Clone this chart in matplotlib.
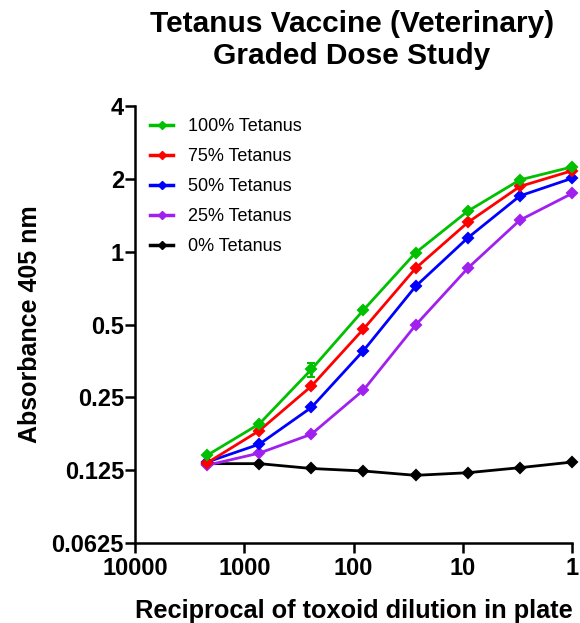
import matplotlib
matplotlib.use("Agg")
import matplotlib.pyplot as plt
from matplotlib.lines import Line2D
from matplotlib.ticker import FixedLocator, FixedFormatter, NullLocator

plt.rcParams['font.family'] = ['Liberation Sans', 'DejaVu Sans']

# reciprocal of toxoid dilution (3-fold series)
dilution = [2187, 729, 243, 81, 27, 9, 3, 1]

tet_100 = [0.144, 0.194, 0.326, 0.574, 0.99, 1.47, 1.98, 2.24]
tet_100_err = [0, 0, 0.022, 0, 0, 0, 0, 0]
tet_75 = [0.134, 0.182, 0.278, 0.479, 0.854, 1.32, 1.86, 2.16]
tet_50 = [0.135, 0.160, 0.227, 0.39, 0.719, 1.14, 1.70, 2.01]
tet_25 = [0.131, 0.147, 0.176, 0.268, 0.497, 0.854, 1.35, 1.74]
tet_0 = [0.133, 0.133, 0.127, 0.124, 0.119, 0.122, 0.128, 0.135]

series = [
    ("100% Tetanus", tet_100, "#00C000"),
    ("75% Tetanus", tet_75, "#FF0000"),
    ("50% Tetanus", tet_50, "#0000FF"),
    ("25% Tetanus", tet_25, "#A020F0"),
    ("0% Tetanus", tet_0, "#000000"),
]

y_ticks = [0.0625, 0.125, 0.25, 0.5, 1, 2, 4]
y_labels = ["0.0625", "0.125", "0.25", "0.5", "1", "2", "4"]
x_ticks = [10000, 1000, 100, 10, 1]
x_labels = ["10000", "1000", "100", "10", "1"]

fig = plt.figure(figsize=(5.8, 6.23), dpi=100)
ax = fig.add_axes([135 / 580, 80 / 623, 437 / 580, 437 / 623])

for name, vals, col in reversed(series):
    err = tet_100_err if name.startswith("100") else None
    h = ax.errorbar(dilution, vals, yerr=err, color=col, lw=2.0, marker="D",
                    ms=5, mew=1.5, capsize=3, elinewidth=2, capthick=2,
                    clip_on=False, zorder=3)
    h.lines[0].set_clip_on(False)

ax.set_xscale("log")
ax.set_yscale("log", base=2)
ax.set_xlim(10000, 1)
ax.set_ylim(0.0625, 4)

ax.yaxis.set_major_locator(FixedLocator(y_ticks))
ax.yaxis.set_major_formatter(FixedFormatter(y_labels))
ax.yaxis.set_minor_locator(NullLocator())
ax.xaxis.set_major_locator(FixedLocator(x_ticks))
ax.xaxis.set_major_formatter(FixedFormatter(x_labels))
ax.xaxis.set_minor_locator(NullLocator())

for s in ["top", "right"]:
    ax.spines[s].set_visible(False)
for s in ["left", "bottom"]:
    ax.spines[s].set_linewidth(1.8)

ax.tick_params(axis="both", direction="out", length=7, width=1.8,
               labelsize=17)
ax.tick_params(axis="y", pad=1)
ax.tick_params(axis="x", pad=3)
for lab in ax.get_xticklabels() + ax.get_yticklabels():
    lab.set_fontweight("bold")

ax.set_xlabel("Reciprocal of toxoid dilution in plate", fontsize=18.3,
              fontweight="bold", labelpad=14)
ax.set_ylabel("Absorbance 405 nm", fontsize=18, fontweight="bold",
              labelpad=7)

fig.text(352 / 580, 1 - 10 / 623, "Tetanus Vaccine (Veterinary)\nGraded Dose Study",
         ha="center", va="top", fontsize=21.5, fontweight="bold",
         linespacing=1.2)

leg_handles = [Line2D([], [], color=col, lw=2.5, marker="D", ms=4)
               for _, _, col in series]
leg_labels = [name for name, _, _ in series]
ax.legend(leg_handles, leg_labels, loc="upper left",
          bbox_to_anchor=(0.034, 0.972), frameon=False, fontsize=13,
          handlelength=1.3, handletextpad=0.8, labelspacing=0.72,
          borderpad=0, borderaxespad=0)

fig.savefig("out.png", dpi=100)
